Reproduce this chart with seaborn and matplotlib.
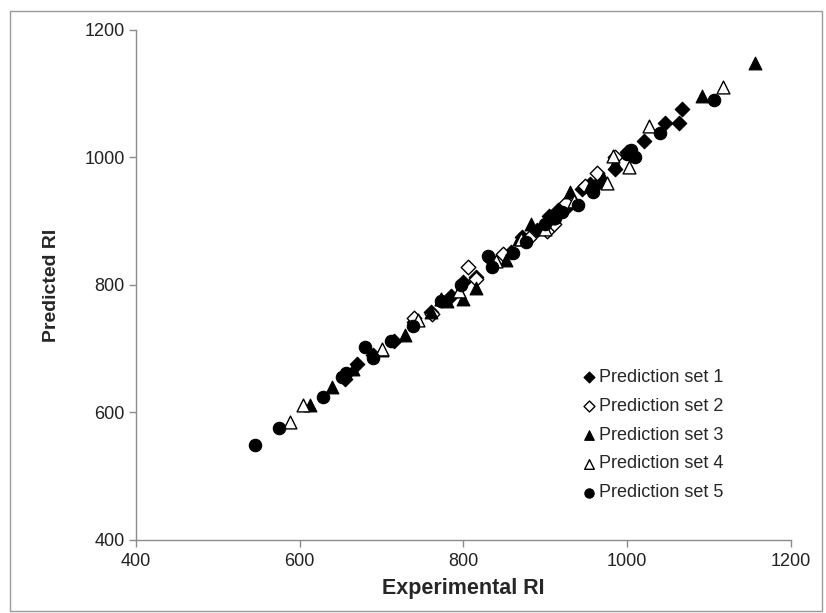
import pandas as pd
import matplotlib
matplotlib.use("Agg")
import matplotlib.pyplot as plt
import seaborn as sns
from matplotlib.patches import Rectangle

# Experimental vs predicted RI for the five prediction sets
set1_exp = [655, 670, 690, 715, 740, 760, 785, 800, 815, 835, 858, 872, 890, 905, 915, 925, 945, 955, 965, 985, 1000, 1020, 1046, 1063, 1067]
set1_pred = [652, 676, 690, 712, 742, 758, 782, 805, 812, 838, 852, 875, 886, 908, 918, 920, 950, 958, 962, 982, 1008, 1026, 1054, 1054, 1076]

set2_exp = [740, 762, 805, 815, 848, 880, 902, 910, 925, 948, 963, 985]
set2_pred = [748, 755, 828, 810, 848, 874, 885, 895, 928, 955, 975, 1000]

set3_exp = [612, 640, 665, 700, 728, 760, 780, 800, 815, 852, 868, 882, 905, 915, 930, 955, 970, 985, 1091, 1156]
set3_pred = [612, 640, 668, 698, 722, 758, 775, 778, 795, 840, 872, 895, 905, 918, 946, 955, 968, 991, 1097, 1148]

set4_exp = [588, 604, 700, 745, 772, 795, 840, 870, 900, 935, 975, 982, 1002, 1026, 1117]
set4_pred = [585, 612, 700, 745, 778, 790, 838, 872, 888, 932, 960, 1002, 985, 1049, 1111]

set5_exp = [545, 575, 628, 652, 656, 680, 690, 712, 738, 772, 797, 830, 835, 860, 876, 900, 912, 920, 940, 958, 1000, 1005, 1010, 1040, 1106]
set5_pred = [549, 576, 625, 655, 662, 703, 685, 712, 735, 775, 800, 845, 828, 850, 868, 895, 905, 915, 925, 946, 1005, 1012, 1000, 1038, 1090]

set_names = ["Prediction set 1", "Prediction set 2", "Prediction set 3",
             "Prediction set 4", "Prediction set 5"]

frames = []
for name, xs, ys in zip(set_names,
                        [set1_exp, set2_exp, set3_exp, set4_exp, set5_exp],
                        [set1_pred, set2_pred, set3_pred, set4_pred, set5_pred]):
    frames.append(pd.DataFrame({"Experimental RI": xs, "Predicted RI": ys, "set": name}))
data = pd.concat(frames, ignore_index=True)

sns.set_style("white")
plt.rcParams['font.family'] = ['Liberation Sans', 'DejaVu Sans']

fig = plt.figure(figsize=(8.26, 6.13), dpi=100)
ax = fig.add_axes([136 / 826, 73 / 613, 655 / 826, 510 / 613])

# marker, filled?, size
styles = {
    "Prediction set 1": ("D", True, 55),
    "Prediction set 2": ("D", False, 55),
    "Prediction set 3": ("^", True, 85),
    "Prediction set 4": ("^", False, 85),
    "Prediction set 5": ("o", True, 80),
}
for name in set_names:
    marker, filled, size = styles[name]
    sub = data[data["set"] == name]
    sns.scatterplot(x="Experimental RI", y="Predicted RI", data=sub, ax=ax,
                    marker=marker, s=size, label=name,
                    facecolor="black" if filled else "white",
                    edgecolor="black", linewidth=0.8 if filled else 1.0)

ax.set_xlim(400, 1200)
ax.set_ylim(400, 1200)
ax.set_xticks([400, 600, 800, 1000, 1200])
ax.set_yticks([400, 600, 800, 1000, 1200])
for side in ["top", "right"]:
    ax.spines[side].set_visible(False)
for side in ["left", "bottom"]:
    ax.spines[side].set_color("#8c8c8c")
    ax.spines[side].set_linewidth(1.0)
ax.tick_params(axis="both", direction="out", length=5, width=1.0, color="#8c8c8c",
               labelsize=13, labelcolor="#222222", left=True, bottom=True)
ax.tick_params(axis="x", pad=4)
ax.tick_params(axis="y", pad=3)

ax.set_xlabel("Experimental RI", fontsize=15.5, fontweight="bold", labelpad=6)
ax.set_ylabel("Predicted RI", fontsize=14, fontweight="bold", labelpad=18)

leg = ax.legend(loc="upper left", bbox_to_anchor=(0.665, 0.35), frameon=False,
                fontsize=13, handletextpad=0.0, labelspacing=0.66,
                handlelength=1.1, markerscale=0.75, borderaxespad=0)

# outer frame around the chart
fig.patches.append(Rectangle((10 / 826, 2 / 613), 812 / 826, 600 / 613,
                             transform=fig.transFigure, fill=False,
                             edgecolor="#9a9a9a", linewidth=1.0))

fig.savefig("out.png", dpi=100)
plt.close(fig)
